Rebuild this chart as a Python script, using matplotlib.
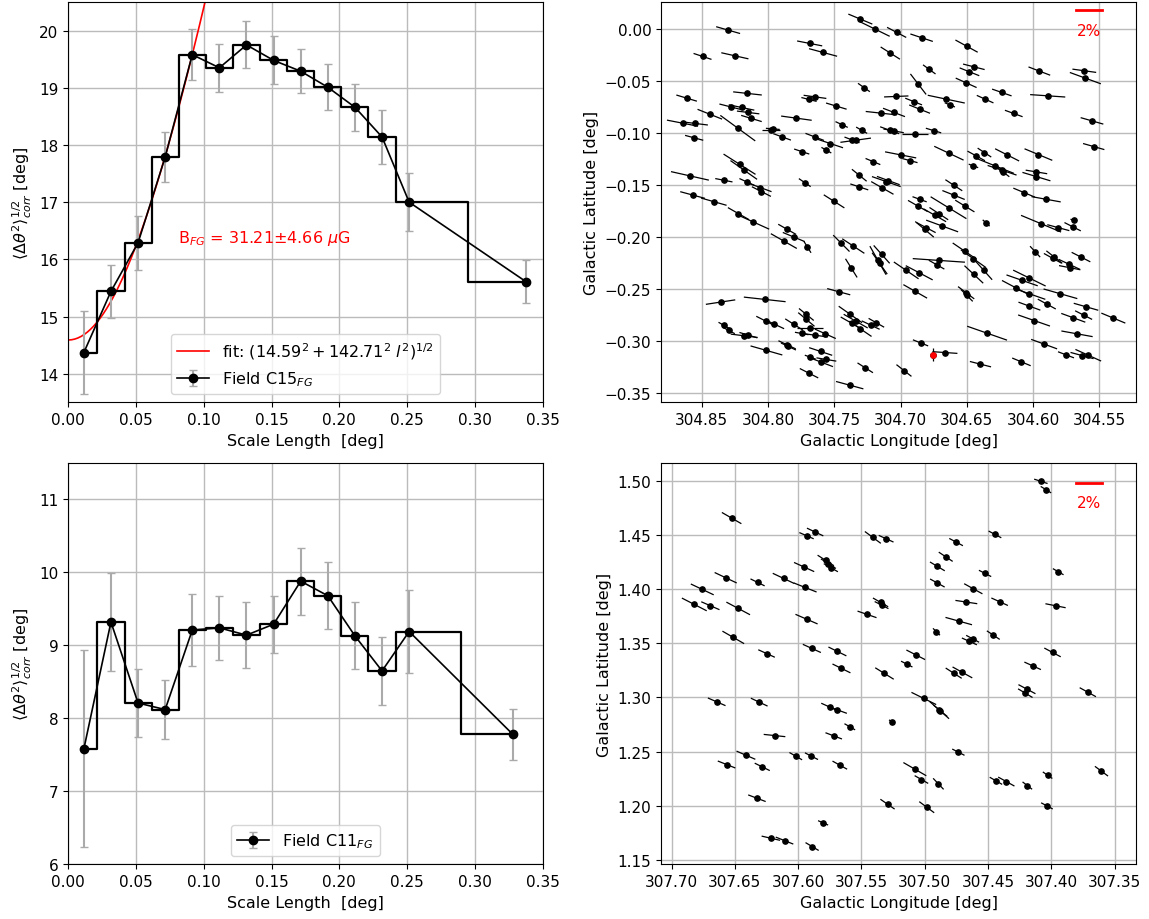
import numpy as np
import matplotlib
matplotlib.use("Agg")
import matplotlib.pyplot as plt
from matplotlib.collections import LineCollection

plt.rcParams["font.size"] = 11.5
plt.rcParams["xtick.labelsize"] = 11
plt.rcParams["ytick.labelsize"] = 11

# dispersion function, field C15 (foreground)
c15_scale = [0.0115, 0.0315, 0.0515, 0.0715, 0.0915, 0.1115, 0.1315,
             0.1515, 0.1715, 0.1915, 0.2115, 0.2315, 0.2515, 0.3377]
c15_disp = [14.37, 15.44, 16.29, 17.79, 19.58, 19.35, 19.75,
            19.48, 19.29, 19.01, 18.66, 18.14, 17.00, 15.61]
c15_err = [0.73, 0.46, 0.47, 0.43, 0.45, 0.42, 0.41,
           0.42, 0.38, 0.40, 0.41, 0.48, 0.51, 0.38]
fit_b = 14.59
fit_m = 142.71

# dispersion function, field C11 (foreground)
c11_scale = [0.0115, 0.0315, 0.0515, 0.0715, 0.0915, 0.1115, 0.1315,
             0.1515, 0.1715, 0.1915, 0.2115, 0.2315, 0.2515, 0.3280]
c11_disp = [7.58, 9.32, 8.21, 8.12, 9.21, 9.24, 9.14,
            9.29, 9.88, 9.68, 9.13, 8.65, 9.19, 7.78]
c11_err = [1.35, 0.67, 0.46, 0.41, 0.49, 0.44, 0.45,
           0.39, 0.46, 0.46, 0.46, 0.47, 0.57, 0.35]

# polarization vectors, field C15: glon, glat, P [%], PA [deg]
c15_l = [304.8300, 304.8493, 304.8249, 304.7685, 304.7584, 304.7303, 304.7193, 304.8613,
         304.8154, 304.7690, 304.7645, 304.7484, 304.7276, 304.8282, 304.8199, 304.8149,
         304.8124, 304.8438, 304.8644, 304.8546, 304.8227, 304.8556, 304.7978, 304.7963,
         304.7893, 304.7785, 304.7647, 304.7529, 304.7559, 304.7745, 304.7444, 304.7293,
         304.7366, 304.7338, 304.7208, 304.7311, 304.7311, 304.8214, 304.8182, 304.8056,
         304.8049, 304.8159, 304.8332, 304.8588, 304.7722, 304.7029, 304.6841, 304.7077,
         304.6502, 304.6783, 304.6447, 304.6480, 304.6505, 304.6866, 304.6655, 304.6628,
         304.7032, 304.6901, 304.6856, 304.6236, 304.6362, 304.5953, 304.5890, 304.5614,
         304.5606, 304.6146, 304.5556, 304.5543, 304.7145, 304.7049, 304.7082, 304.7052,
         304.6891, 304.6751, 304.6635, 304.6999, 304.6929, 304.7107, 304.7092, 304.7137,
         304.6598, 304.6429, 304.6367, 304.6196, 304.6450, 304.6286, 304.6234, 304.6229,
         304.5960, 304.5975, 304.5975, 304.8568, 304.8408, 304.8222, 304.8109, 304.7880,
         304.7855, 304.7805, 304.7702, 304.7501, 304.7446, 304.7356, 304.7371, 304.7466,
         304.7378, 304.7338, 304.7366, 304.7303, 304.8357, 304.8024, 304.8330, 304.8295,
         304.8179, 304.8147, 304.8016, 304.7951, 304.7803, 304.7710, 304.7710, 304.7682,
         304.7647, 304.7567, 304.7745, 304.8011, 304.7855, 304.7845, 304.7602, 304.7680,
         304.7597, 304.7559, 304.7690, 304.7383, 304.7266, 304.6068, 304.5902, 304.6600,
         304.6856, 304.6869, 304.6638, 304.6515, 304.6741, 304.6711, 304.6686, 304.6819,
         304.6806, 304.6354, 304.5940, 304.5810, 304.5702, 304.5694, 304.5985, 304.5840,
         304.5852, 304.5727, 304.5724, 304.5639, 304.7142, 304.7170, 304.7157, 304.6711,
         304.6728, 304.6957, 304.6859, 304.6517, 304.6450, 304.6372, 304.6447, 304.6889,
         304.6505, 304.6500, 304.6083, 304.6028, 304.6131, 304.6028, 304.5794, 304.5897,
         304.6028, 304.5993, 304.5601, 304.5619, 304.5697, 304.5669, 304.5395, 304.6347,
         304.5917, 304.5752, 304.5631, 304.5584, 304.6088, 304.6397, 304.6665, 304.6849,
         304.6974, 304.7225, 304.7182]
c15_b = [-0.0010, -0.0263, -0.0257, -0.0138, -0.0225, 0.0096, 0.0000, -0.0664,
         -0.0619, -0.0677, -0.0652, -0.0741, -0.0562, -0.0748, -0.0754, -0.0802,
         -0.0860, -0.0819, -0.0905, -0.0908, -0.0953, -0.1046, -0.0973, -0.0960,
         -0.1037, -0.0857, -0.1037, -0.1101, -0.1165, -0.1178, -0.0918, -0.0973,
         -0.1066, -0.1069, -0.1274, -0.1406, -0.1518, -0.1300, -0.1355, -0.1525,
         -0.1563, -0.1470, -0.1454, -0.1412, -0.1477, -0.0032, -0.0083, -0.0231,
         -0.0164, -0.0388, -0.0363, -0.0411, -0.0517, -0.0530, -0.0674, -0.0729,
         -0.0648, -0.0697, -0.0770, -0.0610, -0.0674, -0.0404, -0.0642, -0.0401,
         -0.0472, -0.0812, -0.0883, -0.1130, -0.0809, -0.0802, -0.0973, -0.0979,
         -0.1014, -0.0976, -0.1194, -0.1210, -0.1265, -0.1467, -0.1457, -0.1528,
         -0.1502, -0.1220, -0.1188, -0.1210, -0.1316, -0.1316, -0.1358, -0.1371,
         -0.1207, -0.1374, -0.1419, -0.1596, -0.1660, -0.1775, -0.1856, -0.2039,
         -0.1926, -0.2000, -0.2096, -0.1657, -0.2061, -0.2087, -0.2299, -0.2526,
         -0.2745, -0.2809, -0.2831, -0.2883, -0.2626, -0.2600, -0.2851, -0.2899,
         -0.2950, -0.2944, -0.2809, -0.2838, -0.2841, -0.2745, -0.2793, -0.2876,
         -0.2944, -0.2931, -0.2928, -0.3091, -0.3037, -0.3053, -0.3101, -0.3156,
         -0.3204, -0.3178, -0.3310, -0.3425, -0.3258, -0.1573, -0.1637, -0.1596,
         -0.1637, -0.1702, -0.1718, -0.1702, -0.1791, -0.1775, -0.1894, -0.1926,
         -0.1910, -0.1865, -0.1872, -0.1910, -0.1901, -0.1840, -0.2141, -0.2193,
         -0.2205, -0.2263, -0.2295, -0.2193, -0.2167, -0.2225, -0.2254, -0.2225,
         -0.2266, -0.2321, -0.2344, -0.2135, -0.2209, -0.2321, -0.2360, -0.2523,
         -0.2536, -0.2562, -0.2417, -0.2395, -0.2488, -0.2546, -0.2546, -0.2645,
         -0.2665, -0.2803, -0.2671, -0.2751, -0.2777, -0.2931, -0.2780, -0.2925,
         -0.3030, -0.3133, -0.3140, -0.3137, -0.3201, -0.3223, -0.3111, -0.3018,
         -0.3284, -0.2847, -0.2825]
c15_p = [1.92, 1.47, 2.13, 1.95, 2.24, 2.05, 2.63, 1.66,
         2.18, 1.21, 1.74, 1.66, 1.20, 1.76, 2.00, 1.71,
         1.66, 2.08, 2.42, 1.89, 3.60, 1.45, 1.32, 1.05,
         1.47, 2.34, 1.55, 2.08, 0.92, 1.24, 1.08, 1.03,
         1.26, 2.34, 1.26, 1.60, 1.47, 3.10, 2.70, 1.84,
         1.71, 1.29, 1.34, 2.97, 1.18, 1.74, 1.84, 1.87,
         2.05, 1.29, 1.71, 1.66, 1.82, 2.30, 2.89, 0.87,
         1.84, 1.42, 1.76, 1.61, 1.45, 1.82, 2.66, 1.82,
         2.58, 1.47, 1.82, 1.71, 2.37, 1.84, 1.58, 1.58,
         1.97, 1.24, 2.58, 2.42, 1.21, 2.37, 1.89, 2.08,
         1.66, 1.61, 1.34, 2.16, 0.79, 3.16, 2.37, 1.40,
         2.37, 1.66, 2.26, 1.97, 2.05, 1.97, 2.74, 2.42,
         1.66, 1.87, 1.24, 2.00, 2.00, 2.18, 2.00, 1.84,
         2.37, 2.24, 2.10, 2.24, 2.26, 3.18, 1.05, 1.10,
         2.05, 1.45, 1.71, 1.71, 1.71, 1.60, 1.80, 2.00,
         2.00, 1.82, 1.05, 2.55, 1.53, 1.32, 1.89, 0.92,
         1.95, 1.53, 1.66, 2.18, 1.50, 1.84, 2.26, 1.89,
         1.18, 1.84, 3.42, 1.84, 2.10, 1.84, 2.66, 2.05,
         1.71, 0.80, 3.42, 1.76, 1.47, 0.53, 1.30, 1.70,
         1.63, 1.89, 1.66, 1.68, 2.10, 3.00, 2.35, 3.95,
         1.45, 2.47, 2.45, 2.37, 2.55, 2.20, 2.20, 2.21,
         1.70, 1.45, 2.58, 2.89, 2.50, 2.63, 2.71, 1.66,
         1.82, 2.63, 1.97, 1.53, 2.00, 2.42, 2.05, 3.29,
         2.16, 1.34, 1.84, 2.24, 1.58, 1.68, 1.89, 1.29,
         1.60, 1.58, 1.45]
c15_pa = [70, 67, 74, 76, 71, 62, 58, 69,
          82, 72, 80, 69, 48, 72, 75, 81,
          69, 63, 76, 81, 47, 71, 90, 84,
          65, 80, 64, 67, 54, 67, 59, 54,
          64, 100, 62, 44, 67, 51, 48, 65,
          57, 60, 76, 74, 49, 56, 67, 51,
          55, 47, 72, 63, 60, 31, 75, 62,
          93, 63, 63, 66, 60, 64, 85, 80,
          65, 65, 70, 70, 82, 64, 65, 77,
          90, 69, 59, 76, 71, 66, 65, 54,
          50, 55, 50, 57, 65, 63, 67, 45,
          62, 78, 69, 71, 70, 54, 60, 54,
          54, 62, 26, 51, 38, 50, 26, 71,
          48, 54, 54, 49, 101, 82, 54, 56,
          81, 69, 57, 59, 51, 44, 43, 90,
          80, 60, 77, 70, 59, 59, 67, 65,
          64, 78, 57, 71, 51, 62, 77, 63,
          65, 54, 52, 52, 54, 50, 65, 43,
          56, 41, 62, 71, 57, 65, 36, 45,
          55, 59, 76, 57, 35, 24, 29, 85,
          54, 49, 56, 49, 48, 35, 40, 54,
          46, 38, 66, 58, 56, 66, 70, 55,
          65, 66, 70, 57, 65, 77, 62, 66,
          65, 64, 71, 60, 62, 72, 85, 63,
          45, 59, 54]
# reference star of field C15
c15_ref = (304.6756, -0.3133, 1.25, 0)

# polarization vectors, field C11
c11_l = [307.6526, 307.5934, 307.5866, 307.5782, 307.5761, 307.5742, 307.5953, 307.6116,
         307.5945, 307.6573, 307.6321, 307.6758, 307.6821, 307.6694, 307.6474, 307.5934,
         307.6513, 307.6250, 307.5892, 307.5690, 307.5456, 307.4082, 307.4042, 307.5410,
         307.5305, 307.4445, 307.4752, 307.4834, 307.4900, 307.4523, 307.3945, 307.4900,
         307.4616, 307.5349, 307.5341, 307.4671, 307.4408, 307.3966, 307.4731, 307.4907,
         307.4458, 307.4647, 307.4621, 307.3990, 307.5071, 307.5658, 307.6644, 307.6308,
         307.5750, 307.5692, 307.5592, 307.6187, 307.5719, 307.6413, 307.6019, 307.5895,
         307.6566, 307.6284, 307.5671, 307.6326, 307.5803, 307.6216, 307.6108, 307.5890,
         307.5142, 307.5318, 307.4771, 307.4702, 307.4147, 307.4192, 307.4205, 307.3711,
         307.5007, 307.4884, 307.4876, 307.5260, 307.4734, 307.5078, 307.5026, 307.4892,
         307.4437, 307.4355, 307.4189, 307.4029, 307.3603, 307.5294, 307.4984, 307.4034]
c11_b = [1.4660, 1.4497, 1.4531, 1.4268, 1.4238, 1.4201, 1.4207, 1.4102,
         1.4018, 1.4108, 1.4065, 1.4000, 1.3861, 1.3849, 1.3824, 1.3725,
         1.3556, 1.3407, 1.3454, 1.3426, 1.3769, 1.5000, 1.4923, 1.4481,
         1.4469, 1.4509, 1.4438, 1.4302, 1.4213, 1.4148, 1.4164, 1.4059,
         1.4006, 1.3880, 1.3855, 1.3883, 1.3886, 1.3849, 1.3707, 1.3608,
         1.3577, 1.3519, 1.3543, 1.3417, 1.3395, 1.3269, 1.2960, 1.2957,
         1.2911, 1.2886, 1.2729, 1.2648, 1.2645, 1.2466, 1.2457, 1.2457,
         1.2380, 1.2358, 1.2374, 1.2068, 1.1840, 1.1698, 1.1676, 1.1621,
         1.3309, 1.3222, 1.3225, 1.3232, 1.3293, 1.3077, 1.3040, 1.3049,
         1.2991, 1.2883, 1.2877, 1.2772, 1.2494, 1.2337, 1.2241, 1.2201,
         1.2229, 1.2222, 1.2185, 1.2281, 1.2318, 1.2013, 1.1985, 1.1997]
c11_p = [1.77, 1.21, 1.41, 1.54, 1.41, 1.28, 1.72, 1.85,
         1.90, 1.90, 1.23, 1.97, 2.18, 1.54, 2.10, 1.87,
         1.97, 1.41, 1.54, 1.56, 1.54, 1.08, 0.97, 1.59,
         1.26, 1.13, 1.21, 1.33, 1.36, 1.08, 0.97, 1.31,
         1.64, 1.38, 1.21, 1.67, 1.41, 1.56, 2.10, 0.80,
         1.23, 1.28, 1.15, 1.46, 1.64, 1.56, 1.49, 1.44,
         1.46, 1.59, 0.97, 1.64, 1.36, 1.59, 1.15, 1.15,
         1.46, 1.31, 1.31, 1.44, 0.85, 1.44, 1.46, 1.21,
         1.00, 1.72, 1.51, 1.77, 1.41, 1.51, 1.33, 1.46,
         2.15, 2.10, 1.45, 0.58, 1.08, 2.08, 1.23, 1.25,
         1.13, 1.46, 0.97, 0.92, 1.31, 1.38, 1.49, 1.03]
c11_pa = [56, 63, 61, 53, 53, 56, 62, 61,
          65, 61, 60, 61, 59, 63, 58, 63,
          56, 62, 62, 60, 68, 69, 54, 49,
          62, 58, 58, 52, 55, 59, 56, 57,
          57, 56, 59, 80, 62, 77, 72, 41,
          52, 62, 58, 58, 59, 60, 63, 61,
          62, 67, 56, 83, 66, 63, 56, 59,
          65, 60, 57, 66, 63, 75, 65, 55,
          59, 54, 53, 57, 62, 58, 55, 57,
          60, 44, 46, 45, 59, 56, 56, 39,
          56, 57, 48, 51, 49, 51, 49, 58]

fig = plt.figure(figsize=(11.49, 9.2), dpi=100)
ax_tl = fig.add_axes([0.0594, 0.5616, 0.4129, 0.4351])
ax_tr = fig.add_axes([0.5753, 0.5616, 0.4134, 0.4351])
ax_bl = fig.add_axes([0.0594, 0.0595, 0.4129, 0.4362])
ax_br = fig.add_axes([0.5753, 0.0595, 0.4134, 0.4362])

ylabel = r'$\langle\Delta\theta^2\rangle^{1/2}_{corr}$ [deg]'


def dispersion_panel(ax, x, y, err, label, ylim):
    ax.errorbar(x, y, yerr=err, fmt='o-', color='k', ecolor='#aaaaaa',
                elinewidth=1.5, capsize=3, ms=6, lw=1.2, label=label, zorder=3)
    ax.step(x, y, where='mid', color='k', lw=1.6, zorder=3)
    ax.set_xlim(0, 0.35)
    ax.set_ylim(*ylim)
    ax.set_xlabel('Scale Length  [deg]')
    ax.set_ylabel(ylabel)
    ax.grid(True, color='#bbbbbb', lw=1)
    ax.set_axisbelow(True)


# top left: C15 with the fitted dispersion model
ll = np.linspace(0, 0.35, 300)
ax_tl.plot(ll, np.sqrt(fit_b**2 + fit_m**2 * ll**2), color='red', lw=1.2,
           label=r'fit: $(14.59^2 + 142.71^2\ l^2)^{1/2}$')
dispersion_panel(ax_tl, c15_scale, c15_disp, c15_err, r'Field C15$_{FG}$', (13.5, 20.5))
ax_tl.text(0.081, 16.39, r'B$_{FG}$ = 31.21$\pm$4.66 $\mu$G', color='red',
           fontsize=11.5, va='center')
ax_tl.legend(loc='lower center')

# bottom left: C11
dispersion_panel(ax_bl, c11_scale, c11_disp, c11_err, r'Field C11$_{FG}$', (6, 11.5))
ax_bl.legend(loc='lower center')


def vector_map(ax, gl, gb, p, pa, k):
    gl, gb = np.asarray(gl), np.asarray(gb)
    half = 0.5 * np.asarray(p) * k
    ang = np.radians(pa)
    dl, db = half * np.sin(ang), half * np.cos(ang)
    segs = np.stack([np.column_stack([gl - dl, gb - db]),
                     np.column_stack([gl + dl, gb + db])], axis=1)
    ax.add_collection(LineCollection(segs, colors='k', linewidths=0.9, zorder=3))
    ax.plot(gl, gb, 'o', color='k', ms=3.8, zorder=4)
    ax.grid(True, color='#bbbbbb', lw=1)
    ax.set_axisbelow(True)
    ax.set_xlabel('Galactic Longitude [deg]')
    ax.set_ylabel('Galactic Latitude [deg]')


# top right: C15 vectors, 1% = 0.01 deg
k15 = 0.01
vector_map(ax_tr, c15_l, c15_b, c15_p, c15_pa, k15)
rl, rb, rp, rpa = c15_ref
vector_map(ax_tr, [rl], [rb], [rp], [rpa], k15)
ax_tr.plot(rl, rb, 'o', color='red', ms=3.8, zorder=5)
ax_tr.set_xlim(304.8806, 304.5224)
ax_tr.set_ylim(-0.3590, 0.0260)
ax_tr.set_xticks(np.arange(304.85, 304.54, -0.05))
ax_tr.plot([304.558 + k15, 304.558 - k15], [0.0183, 0.0183], color='red', lw=2)
ax_tr.text(304.558, -0.001, '2%', color='red', ha='center', va='center', fontsize=11)

# bottom right: C11 vectors
k11 = 0.0105
vector_map(ax_br, c11_l, c11_b, c11_p, c11_pa, k11)
ax_br.set_xlim(307.7084, 307.3330)
ax_br.set_ylim(1.1457, 1.5170)
ax_br.set_xticks(np.arange(307.70, 307.34, -0.05))
ax_br.plot([307.3701 + k11, 307.3701 - k11], [1.4981, 1.4981], color='red', lw=2)
ax_br.text(307.3701, 1.4806, '2%', color='red', ha='center', va='center', fontsize=11)

fig.savefig('out.png', dpi=100)
